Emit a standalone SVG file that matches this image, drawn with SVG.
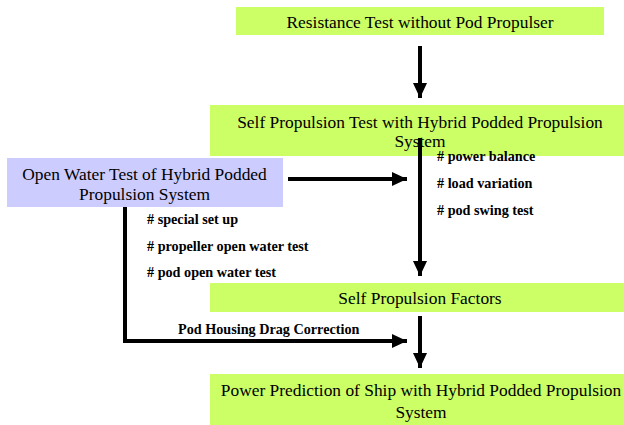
<svg xmlns="http://www.w3.org/2000/svg" width="624" height="425" viewBox="0 0 624 425">
<style>
.g{fill:#ccff66}
.b{fill:#ccccff}
.ln{stroke:#000;stroke-width:4;fill:none}
</style>
<defs>
<marker id="ah" markerWidth="4" markerHeight="4" refX="3.75" refY="1.75" orient="auto" markerUnits="strokeWidth">
<path d="M0,0 L3.75,1.75 L0,3.5 Z" fill="#000"/>
</marker>
</defs>
<rect width="624" height="425" fill="#fff"/>
<g font-family="'Liberation Serif', 'Times New Roman', serif" font-size="17.4" text-anchor="middle" fill="#000">
<g id="n1"><rect class="g" x="236" y="7" width="368" height="28"/><text x="420" y="28">Resistance Test without Pod Propulser</text></g>
<g id="n2"><rect class="g" x="210" y="105" width="414" height="51"/><text x="420" y="127.5">Self Propulsion Test with Hybrid Podded Propulsion</text><text x="420" y="147">System</text></g>
<g id="n3"><rect class="b" x="7" y="158" width="276" height="49"/><text x="144.5" y="180">Open Water Test of Hybrid Podded</text><text x="144.5" y="200">Propulsion System</text></g>
<g id="n4"><rect class="g" x="210" y="283" width="414" height="29"/><text x="420" y="304">Self Propulsion Factors</text></g>
<g id="n5"><rect class="g" x="210" y="374" width="414" height="51"/><text x="421" y="396">Power Prediction of Ship with Hybrid Podded Propulsion</text><text x="421" y="418">System</text></g>
</g>
<g id="connectors">
<line class="ln" x1="420" y1="46" x2="420" y2="98" marker-end="url(#ah)"/>
<line class="ln" x1="288" y1="179" x2="407" y2="179" marker-end="url(#ah)"/>
<line class="ln" x1="420" y1="138" x2="420" y2="276" marker-end="url(#ah)"/>
<line class="ln" x1="420" y1="316" x2="420" y2="368" marker-end="url(#ah)"/>
<polyline class="ln" points="125,207 125,341 407,341" marker-end="url(#ah)"/>
</g>
<g id="labels" font-family="'Liberation Serif', 'Times New Roman', serif" font-size="14.2" font-weight="bold" fill="#000">
<text x="147" y="224"># special set up</text>
<text x="147" y="251"># propeller open water test</text>
<text x="147" y="277"># pod open water test</text>
<text x="437" y="161"># power balance</text>
<text x="437" y="188"># load variation</text>
<text x="437" y="215"># pod swing test</text>
<text x="178" y="334">Pod Housing Drag Correction</text>
</g>
</svg>
